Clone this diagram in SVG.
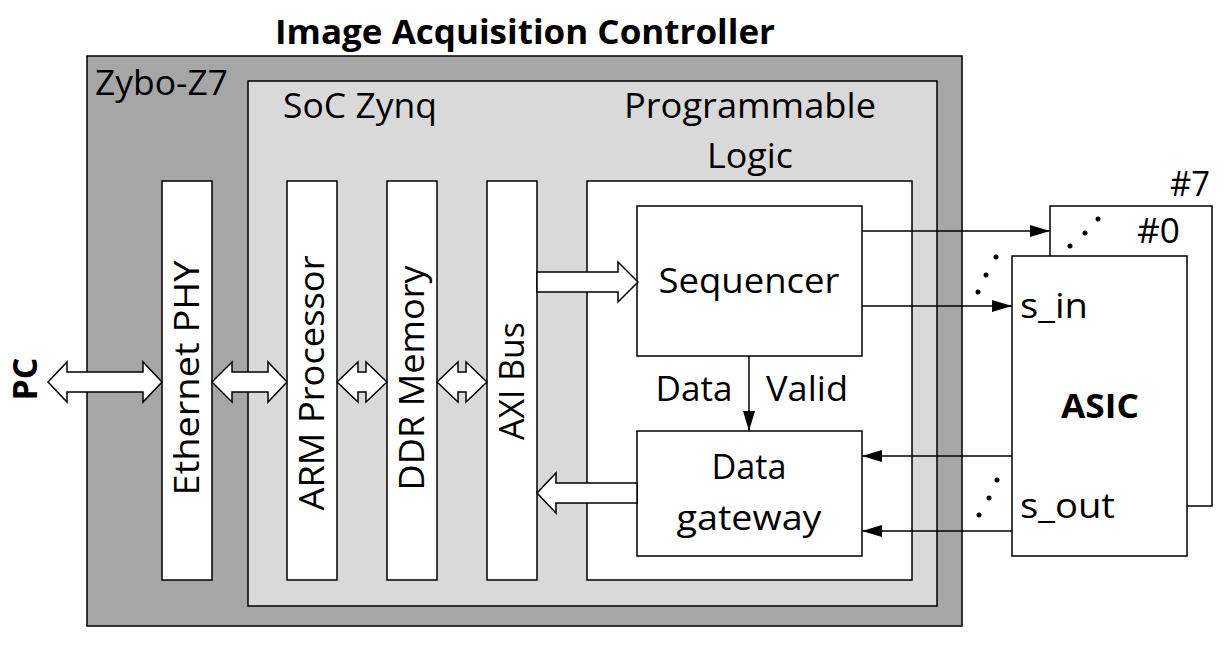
<svg xmlns="http://www.w3.org/2000/svg" width="1226" height="649" viewBox="0 0 1226 649">
<style>
.box{stroke:#000;stroke-width:1.5}
.w{fill:#fff}
.t{font-family:"Open Sans","Noto Sans",sans-serif;font-size:34px;fill:#000}
.b{font-weight:bold}
.ba{fill:#fff;stroke:#000;stroke-width:1.5;stroke-linejoin:miter}
.ln{stroke:#000;stroke-width:1.5;fill:none}
.dot{fill:#000}
</style>
<defs>
<marker id="ah2" markerWidth="20" markerHeight="12" refX="20" refY="6" orient="auto" markerUnits="userSpaceOnUse"><path d="M0,0 L20,6 L0,12 Z" fill="#000"/></marker>
</defs>
<text class="t b" x="525" y="44" text-anchor="middle" font-size="34" textLength="500" lengthAdjust="spacingAndGlyphs">Image Acquisition Controller</text>
<g id="zybo">
<rect class="box" x="87" y="56" width="875" height="570" fill="#a6a6a6"/>
<text class="t" x="95" y="95" textLength="133" lengthAdjust="spacingAndGlyphs">Zybo-Z7</text>
</g>
<g id="soc">
<rect class="box" x="248" y="81" width="689" height="525" fill="#d9d9d9"/>
<text class="t" x="283" y="118" textLength="154" lengthAdjust="spacingAndGlyphs">SoC Zynq</text>
</g>
<g id="pl">
<rect class="box w" x="587" y="181" width="325" height="399"/>
<text class="t" x="750" y="118" text-anchor="middle" textLength="252" lengthAdjust="spacingAndGlyphs">Programmable</text>
<text class="t" x="750" y="168" text-anchor="middle" textLength="86" lengthAdjust="spacingAndGlyphs">Logic</text>
</g>
<g id="eth">
<rect class="box w" x="162" y="181" width="50" height="399"/>
<text class="t" transform="translate(199,378) rotate(-90)" text-anchor="middle" textLength="235" lengthAdjust="spacingAndGlyphs">Ethernet PHY</text>
</g>
<g id="arm">
<rect class="box w" x="287" y="181" width="50" height="399"/>
<text class="t" transform="translate(324,383) rotate(-90)" text-anchor="middle" textLength="255" lengthAdjust="spacingAndGlyphs">ARM Processor</text>
</g>
<g id="ddr">
<rect class="box w" x="387" y="181" width="50" height="399"/>
<text class="t" transform="translate(424,378) rotate(-90)" text-anchor="middle" textLength="225" lengthAdjust="spacingAndGlyphs">DDR Memory</text>
</g>
<g id="axi">
<rect class="box w" x="487" y="181" width="50" height="399"/>
<text class="t" transform="translate(524,381) rotate(-90)" text-anchor="middle" textLength="118" lengthAdjust="spacingAndGlyphs">AXI Bus</text>
</g>
<g id="seq">
<rect class="box w" x="637" y="206" width="225" height="150"/>
<text class="t" x="749" y="293" text-anchor="middle" textLength="181" lengthAdjust="spacingAndGlyphs">Sequencer</text>
</g>
<g id="gw">
<rect class="box w" x="637" y="431" width="225" height="125"/>
<text class="t" x="749" y="479" text-anchor="middle" textLength="75" lengthAdjust="spacingAndGlyphs">Data</text>
<text class="t" x="749" y="530" text-anchor="middle" textLength="145" lengthAdjust="spacingAndGlyphs">gateway</text>
</g>
<g id="asic7">
<rect class="box w" x="1050" y="206" width="162" height="300"/>
<text class="t" x="1170" y="196" textLength="40" lengthAdjust="spacingAndGlyphs">#7</text>
<text class="t" x="1137" y="243" textLength="43" lengthAdjust="spacingAndGlyphs">#0</text>
<circle class="dot" cx="1070" cy="246" r="2.5"/><circle class="dot" cx="1085" cy="233" r="2.5"/><circle class="dot" cx="1098" cy="219" r="2.5"/>
</g>
<g id="asic0">
<rect class="box w" x="1012" y="256" width="175" height="300"/>
<text class="t" x="1020" y="318" textLength="68" lengthAdjust="spacingAndGlyphs">s_in</text>
<text class="t" x="1020" y="518" textLength="95" lengthAdjust="spacingAndGlyphs">s_out</text>
<text class="t b" x="1100" y="418" text-anchor="middle" font-size="36" textLength="78" lengthAdjust="spacingAndGlyphs">ASIC</text>
</g>
<g id="pc">
<text class="t b" transform="translate(37,379) rotate(-90)" text-anchor="middle" font-size="38" textLength="43" lengthAdjust="spacingAndGlyphs">PC</text>
</g>
<g id="connectors">
<path class="ba" d="M48,382 L67,362 L67,372 L143,372 L143,362 L162,382 L143,402 L143,392 L67,392 L67,402 Z"/>
<path class="ba" d="M212,382 L232,362 L232,372 L268,372 L268,362 L287,382 L268,402 L268,392 L232,392 L232,402 Z"/>
<path class="ba" d="M337,382 L358,362 L358,372 L366,372 L366,362 L387,382 L366,402 L366,392 L358,392 L358,402 Z"/>
<path class="ba" d="M437,382 L458,362 L458,372 L466,372 L466,362 L487,382 L466,402 L466,392 L458,392 L458,402 Z"/>
<path class="ba" d="M537,272 L618,272 L618,262 L638,282 L618,302 L618,292 L537,292 Z"/>
<path class="ba" d="M637,483 L556,483 L556,473 L537,493 L556,513 L556,503 L637,503 Z"/>
<line class="ln" x1="862" y1="231" x2="1050" y2="231" marker-end="url(#ah2)"/>
<line class="ln" x1="862" y1="306" x2="1012" y2="306" marker-end="url(#ah2)"/>
<line class="ln" x1="1012" y1="456" x2="862" y2="456" marker-end="url(#ah2)"/>
<line class="ln" x1="1012" y1="531" x2="862" y2="531" marker-end="url(#ah2)"/>
<line class="ln" x1="749" y1="356" x2="749" y2="431" marker-end="url(#ah2)"/>
<text class="t" x="694" y="401" text-anchor="middle" textLength="77" lengthAdjust="spacingAndGlyphs">Data</text>
<text class="t" x="807" y="401" text-anchor="middle" textLength="82" lengthAdjust="spacingAndGlyphs">Valid</text>
<circle class="dot" cx="978" cy="292" r="2.5"/><circle class="dot" cx="986" cy="275" r="2.5"/><circle class="dot" cx="996" cy="257" r="2.5"/>
<circle class="dot" cx="979" cy="515" r="2.5"/><circle class="dot" cx="989" cy="498" r="2.5"/><circle class="dot" cx="997" cy="480" r="2.5"/>
</g>
</svg>
